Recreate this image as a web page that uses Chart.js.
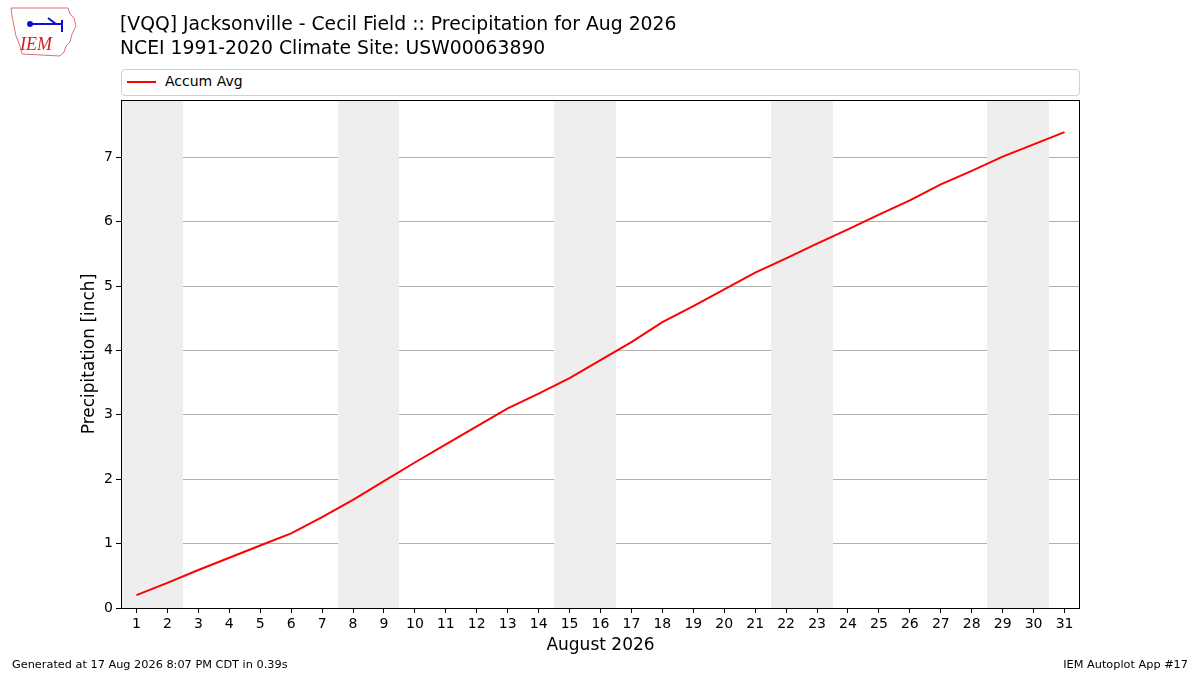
<!DOCTYPE html>
<html>
<head>
<meta charset="utf-8">
<script src="https://cdn.jsdelivr.net/npm/chart.js@4/dist/chart.umd.min.js"></script>
<style>
  body { margin: 0; background: #fff; font-family: "DejaVu Sans", sans-serif; }
  #wrap { position: relative; width: 1200px; height: 675px; }
  #chart { position: absolute; left: 0; top: 0; }
  .title { position: absolute; left: 120px; font-size: 18.8px; color: #000; white-space: nowrap; }
  .foot { position: absolute; top: 658px; font-size: 11.3px; color: #000; }
  #legend { position: absolute; left: 121px; top: 69px; width: 957px; height: 25px;
            border: 1px solid #d0d0d0; border-radius: 4px; background: #fff; }
  #legend .swatch { position: absolute; left: 5px; top: 11px; width: 29px; height: 2px; background: red; }
  #legend .lbl { position: absolute; left: 43px; top: 3px; font-size: 14px; }
  #logo { position: absolute; left: 8px; top: 6px; }
</style>
</head>
<body>
<div id="wrap">
  <canvas id="chart" width="1200" height="675"></canvas>
  <svg id="logo" width="72" height="52" viewBox="0 0 72 52">
    <path d="M3,2 L60,2 L62,8 L66,12 L68,20 L64,28 L62,36 L58,40 L56,46 L52,50 L14,48 L12,40 L8,30 L6,20 L4,10 Z"
          fill="none" stroke="#e07070" stroke-width="1"/>
    <path d="M20,18 L54,18 M54,14 L54,26 M40,12 L48,18" stroke="#1010cc" stroke-width="2" fill="none"/>
    <circle cx="22" cy="18" r="3" fill="#1010cc"/>
    <text x="12" y="44" font-family="Liberation Serif, serif" font-style="italic" font-size="18" fill="#d02020">IEM</text>
  </svg>
  <div class="title" style="top:13px">[VQQ] Jacksonville - Cecil Field :: Precipitation for Aug 2026</div>
  <div class="title" style="top:37px">NCEI 1991-2020 Climate Site: USW00063890</div>
  <div id="legend"><div class="swatch"></div><div class="lbl">Accum Avg</div></div>
  <div class="foot" style="left:12px">Generated at 17 Aug 2026 8:07 PM CDT in 0.39s</div>
  <div class="foot" style="right:12px">IEM Autoplot App #17</div>
</div>
<script>
// day of month
const days = [1, 2, 3, 4, 5, 6, 7, 8, 9, 10, 11, 12, 13, 14, 15, 16,
              17, 18, 19, 20, 21, 22, 23, 24, 25, 26, 27, 28, 29, 30, 31];
// accumulated average precipitation [inch]
const accumAvg = [0.20, 0.39, 0.59, 0.78, 0.97, 1.16, 1.41, 1.68, 1.97, 2.26, 2.54,
                  2.82, 3.10, 3.33, 3.57, 3.85, 4.13, 4.44, 4.69, 4.95, 5.21, 5.43,
                  5.66, 5.88, 6.11, 6.33, 6.58, 6.79, 7.01, 7.20, 7.39];
// weekend days get a grey band
const weekendDays = [1, 2, 8, 9, 15, 16, 22, 23, 29, 30];
const yTicks = [0, 1, 2, 3, 4, 5, 6, 7];

const weekendBands = {
    id: "weekendBands",
    beforeDatasetsDraw(chart) {
        const ctx = chart.ctx, x = chart.scales.x, a = chart.chartArea;
        // merge consecutive days so no seam shows between them
        const runs = [];
        weekendDays.forEach(function (d) {
            const last = runs[runs.length - 1];
            if (last && last[1] === d - 1) last[1] = d; else runs.push([d, d]);
        });
        ctx.save();
        ctx.fillStyle = "#eeeeee";
        runs.forEach(function (r) {
            const x0 = Math.round(x.getPixelForValue(r[0] - 0.5));
            const x1 = Math.round(x.getPixelForValue(r[1] + 0.5));
            ctx.fillRect(x0, a.top, x1 - x0, a.bottom - a.top);
        });
        ctx.restore();
    },
    afterDatasetsDraw(chart) {
        const ctx = chart.ctx, a = chart.chartArea;
        ctx.save();
        ctx.strokeStyle = "#000";
        ctx.lineWidth = 1;
        ctx.strokeRect(a.left + 0.5, a.top + 0.5, a.right - a.left - 1, a.bottom - a.top);
        ctx.restore();
    }
};

const tickFont = { family: "DejaVu Sans", size: 14 };
const titleFont = { family: "DejaVu Sans", size: 17 };

new Chart(document.getElementById("chart").getContext("2d"), {
    type: "line",
    data: {
        datasets: [{
            label: "Accum Avg",
            data: days.map((d, i) => ({ x: d, y: accumAvg[i] })),
            borderColor: "#ff0000",
            borderWidth: 2,
            pointRadius: 0,
            fill: false,
            tension: 0
        }]
    },
    options: {
        responsive: false,
        animation: false,
        layout: { padding: { left: 0, top: 100, right: 120, bottom: 0 } },
        plugins: { legend: { display: false }, tooltip: { enabled: false } },
        scales: {
            x: {
                type: "linear",
                min: 0.5, max: 31.5,
                afterBuildTicks: s => { s.ticks = days.map(v => ({ value: v })); },
                afterFit: s => { s.height = 67; },
                ticks: { font: tickFont, color: "#000", padding: 3, maxRotation: 0, autoSkip: false },
                grid: { drawOnChartArea: false, tickLength: 5, tickColor: "#000", color: "#000" },
                border: { display: false },
                title: { display: true, text: "August 2026", font: titleFont, color: "#000",
                         padding: { top: 0, bottom: 19 } }
            },
            y: {
                min: 0, max: 7.89,
                afterBuildTicks: s => { s.ticks = yTicks.map(v => ({ value: v })); },
                afterFit: s => { s.width = 121; },
                ticks: { font: tickFont, color: "#000", padding: 3 },
                grid: { color: "#b0b0b0", tickColor: "#000", tickLength: 5, lineWidth: 1 },
                border: { display: false },
                title: { display: true, text: "Precipitation [inch]", font: titleFont, color: "#000",
                         padding: { top: 79, bottom: 0 } }
            }
        }
    },
    plugins: [weekendBands]
});
</script>
</body>
</html>
